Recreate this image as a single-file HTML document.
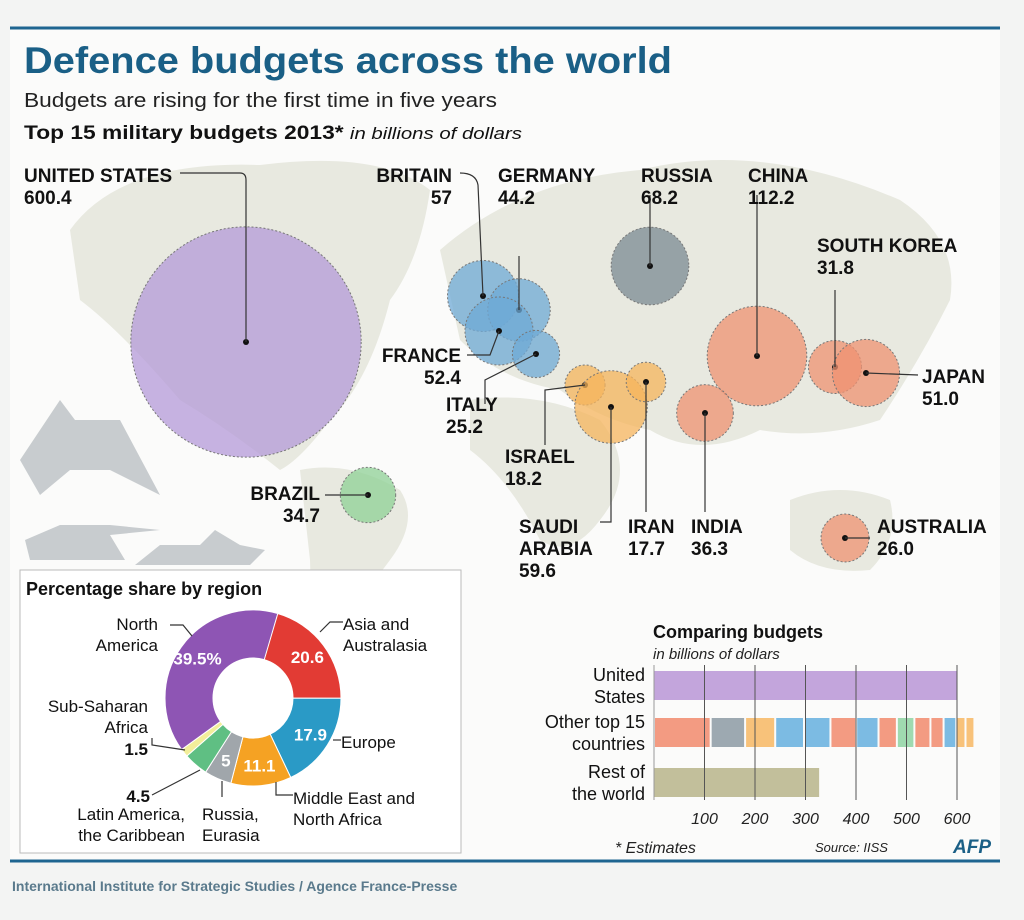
<!DOCTYPE html>
<html><head><meta charset="utf-8"><style>
html,body{margin:0;padding:0;background:#f3f4f3;}
svg{display:block;font-family:"Liberation Sans",Arial,sans-serif;}
.lbl{font-family:"Liberation Sans",sans-serif;font-weight:bold;font-size:19px;fill:#111;}
.ldr{stroke:#333;stroke-width:1.2;fill:none;}
.dl{font-size:17px;fill:#111;}
</style></head><body>
<svg id="root" width="1024" height="920" viewBox="0 0 1024 920">
<rect x="10" y="28" width="990" height="832" fill="#fbfbfa"/>
<line x1="10" y1="28" x2="1000" y2="28" stroke="#1e6590" stroke-width="3"/>
<g fill="#e8e9e0">
<path d="M70 230 Q120 160 260 165 Q380 150 430 190 Q420 260 390 300 Q370 380 330 420 Q300 460 280 470 Q230 430 180 400 Q120 330 80 300 Z"/>
<path d="M300 470 Q350 460 400 490 Q420 520 390 560 Q360 600 330 640 Q310 600 310 560 Z"/>
<path d="M440 250 Q520 180 640 170 Q760 140 900 200 Q960 240 950 300 Q920 360 880 420 Q820 440 760 430 Q700 460 650 430 Q600 420 560 390 Q500 380 460 340 Z"/>
<path d="M470 400 Q540 390 600 420 Q640 470 600 520 Q570 560 540 540 Q510 480 470 450 Z"/>
<path d="M790 500 Q840 480 890 500 Q900 540 870 570 Q820 575 790 550 Z"/>
</g>
<g fill="#c8cccf">
<path d="M20 460 L60 400 L75 420 L120 420 L160 495 L110 470 L70 470 L40 495 Z"/>
<path d="M25 540 L60 525 L110 525 L160 530 L110 535 L125 560 L30 560 Z"/>
<path d="M135 565 L160 545 L200 545 L215 530 L240 545 L265 550 L250 565 Z"/>
</g>
<text x="24" y="73" font-size="37" font-weight="bold" fill="#1a5f86" textLength="648" lengthAdjust="spacingAndGlyphs">Defence budgets across the world</text>
<text x="24" y="107" font-size="20" fill="#222" textLength="473" lengthAdjust="spacingAndGlyphs">Budgets are rising for the first time in five years</text>
<text x="24" y="139" font-size="19" fill="#111" textLength="498" lengthAdjust="spacingAndGlyphs"><tspan font-weight="bold">Top 15 military budgets 2013*</tspan> <tspan font-style="italic" font-size="17">in billions of dollars</tspan></text>
<g id="bubbles"></g>
<g id="labels"></g>

<rect x="20" y="570" width="441" height="283" fill="#fff" stroke="#bbb"/>
<text x="26" y="595" font-size="18" font-weight="bold" fill="#111">Percentage share by region</text>
<g id="donut"></g>

<text x="653" y="638" font-size="18" font-weight="bold" fill="#111">Comparing budgets</text>
<text x="653" y="659" font-size="15" font-style="italic" fill="#222">in billions of dollars</text>
<g id="bars"></g>
<text x="615" y="853" font-size="16" font-style="italic" fill="#222">* Estimates</text>
<text x="815" y="852" font-size="13" font-style="italic" fill="#222">Source: IISS</text>
<text x="953" y="853" font-size="19" font-weight="bold" font-style="italic" fill="#1a5f86">AFP</text>
<line x1="10" y1="861" x2="1000" y2="861" stroke="#1e6590" stroke-width="3"/>
<text x="12" y="891" font-size="14" font-weight="bold" fill="#5a7a8c">International Institute for Strategic Studies / Agence France-Presse</text>
</svg>
<script>
const NS="http://www.w3.org/2000/svg";
function mk(t,a,p){const e=document.createElementNS(NS,t);for(const k in a)e.setAttribute(k,a[k]);p.appendChild(e);return e;}

const countries=["United States","Britain","Germany","France","Italy","Russia","China","South Korea","Japan","India","Israel","Saudi Arabia","Iran","Brazil","Australia"];
const budgets=[600.4,57,44.2,52.4,25.2,68.2,112.2,31.8,51.0,36.3,18.2,59.6,17.7,34.7,26.0];
const budgetLabels=["600.4","57","44.2","52.4","25.2","68.2","112.2","31.8","51.0","36.3","18.2","59.6","17.7","34.7","26.0"];
const regionOf=["na","eu","eu","eu","eu","ru","as","as","as","as","me","me","me","la","as"];
const locX=[246,483,519,499,536,650,757,835,866,705,585,611,646,368,845];
const locY=[342,296,310,331,354,266,356,367,373,413,385,407,382,495,538];
const fillC={na:"#b49ad8",eu:"#6faad6",ru:"#7b8a93",as:"#ef9272",me:"#f6b45c",la:"#8fd095"};
const rScale=v=>Math.sqrt(v)*4.7;
const bub=document.getElementById('bubbles');
countries.forEach((c,i)=>{
  const g=mk('circle',{cx:locX[i],cy:locY[i],r:rScale(budgets[i]),fill:fillC[regionOf[i]],'fill-opacity':0.75,stroke:'#777','stroke-dasharray':'2 2','stroke-width':1},bub);
  
  
  const d=mk('circle',{cx:locX[i],cy:locY[i],r:3,fill:'#111'},bub);
  
  
});
const labelText=[["UNITED STATES"],["BRITAIN"],["GERMANY"],["FRANCE"],["ITALY"],["RUSSIA"],["CHINA"],["SOUTH KOREA"],["JAPAN"],["INDIA"],["ISRAEL"],["SAUDI","ARABIA"],["IRAN"],["BRAZIL"],["AUSTRALIA"]];
const labelPos=[[24,182,"start"],[452,182,"end"],[498,182,"start"],[461,362,"end"],[446,411,"start"],[641,182,"start"],[748,182,"start"],[817,252,"start"],[922,383,"start"],[691,533,"start"],[505,463,"start"],[519,533,"start"],[628,533,"start"],[320,500,"end"],[877,533,"start"]];
const leaders=["M180 173 L240 173 Q246 173 246 180 L246 342","M460 173 Q476 173 478 185 L483 296","M519 256 L519 310","M467 355 L490 355 L499 331","M485 404 L485 380 L536 354","M650 195 L650 266","M757 195 L757 356","M835 290 L835 367","M918 375 L866 373","M705 512 L705 413","M545 445 L545 390 L585 385","M600 522 L611 522 L611 407","M646 512 L646 382","M325 495 L368 495","M870 538 L845 538"];
const lab=document.getElementById('labels');
leaders.forEach((p,i)=>{const e=mk('path',{d:p,class:'ldr'},lab);
  
  });
countries.forEach((c,i)=>{
  const [x,y,an]=labelPos[i];
  const t=mk('text',{x:x,y:y,class:'lbl','text-anchor':an},lab);
  
  
  const lines=labelText[i].concat([budgetLabels[i]]);
  lines.forEach((s,j)=>{const ts=mk('tspan',{x:x,dy:j?22:0},t);ts.textContent=s;});
});

const regions=["Asia and Australasia","Europe","Middle East and North Africa","Russia, Eurasia","Latin America, the Caribbean","Sub-Saharan Africa","North America"];
const shares=[20.6,17.9,11.1,5,4.5,1.5,39.5];
const shareLabels=["20.6","17.9","11.1","5","","","39.5%"];
const donutColors=["#e23b34","#2a9ac6","#f5a223","#a0a6ab","#5fbf83","#f2ee9a","#8e55b4"];
const cx=253,cy=698,R=88,r0=40;
const dn=document.getElementById('donut');
let a=16*Math.PI/180;
const pt=(rad,ang)=>[cx+rad*Math.sin(ang),cy-rad*Math.cos(ang)];
shares.forEach((s,i)=>{
  const b=a+s/100*2*Math.PI, lg=(b-a)>Math.PI?1:0;
  const [x1,y1]=pt(R,a),[x2,y2]=pt(R,b),[x3,y3]=pt(r0,b),[x4,y4]=pt(r0,a);
  const p=mk('path',{d:`M${x1} ${y1} A${R} ${R} 0 ${lg} 1 ${x2} ${y2} L${x3} ${y3} A${r0} ${r0} 0 ${lg} 0 ${x4} ${y4}Z`,fill:donutColors[i],stroke:'#fff','stroke-width':1},dn);
  
  
  if(shareLabels[i]){const m=(a+b)/2;const rr=(R+r0)/2+4;
    const [tx,ty]=pt(rr,m);
    const t=mk('text',{x:tx,y:ty+6,'text-anchor':'middle','font-size':17,'font-weight':'bold',fill:'#fff'},dn);
    t.textContent=shareLabels[i];
    
    }
  a=b;
});
const dTexts=[[343,630,"start",["Asia and","Australasia"]],[341,748,"start",["Europe"]],[293,804,"start",["Middle East and","North Africa"]],[202,820,"start",["Russia,","Eurasia"]],[185,820,"end",["Latin America,","the Caribbean"]],[148,712,"end",["Sub-Saharan","Africa"]],[158,630,"end",["North","America"]]];
dTexts.forEach(d=>{const t=mk('text',{x:d[0],y:d[1],'text-anchor':d[2],class:'dl'},dn);
  
  
  d[3].forEach((s,j)=>{const ts=mk('tspan',{x:d[0],dy:j?21:0},t);ts.textContent=s;});});
[[148,755,"1.5"],[150,802,"4.5"]].forEach(v=>{const t=mk('text',{x:v[0],y:v[1],'text-anchor':'end','font-size':17,'font-weight':'bold',fill:'#111'},dn);t.textContent=v[2];
  
  });
["M170 625 L183 625 L192 636","M320 632 L330 622 L343 622","M341 740 L333 740","M293 795 L276 795 L276 782","M222 797 L222 781","M152 795 L200 770","M152 738 L152 745 L185 750"].forEach(p=>{const e=mk('path',{d:p,class:'ldr','stroke-width':1},dn);
  
  });

const barCats=["United States","Other top 15 countries","Rest of the world"];
const usVal=[600.4];
const otherVals=[112.2,68.2,59.6,57,52.4,51.0,44.2,36.3,34.7,31.8,26.0,25.2,18.2,17.7];
const otherColors=["#f39b82","#9da9b1","#f8c27a","#7cbbe3","#7cbbe3","#f39b82","#7cbbe3","#f39b82","#9fdab0","#f39b82","#f39b82","#7cbbe3","#f8c27a","#f8c27a"];
const restVal=[327];
const ticks=[100,200,300,400,500,600];
const x0=654,k=0.505;const X=v=>x0+v*k;
const bg=document.getElementById('bars');
const rowY=[671,718,768],bh=29;
let e=mk('rect',{x:X(0),y:rowY[0],width:X(usVal[0])-X(0),height:bh,fill:'#c3a5dc'},bg);


let acc=0;
otherVals.forEach((v,i)=>{const r=mk('rect',{x:X(acc)+1,y:rowY[1],width:X(v)-X(0)-2,height:bh,fill:otherColors[i]},bg);
  
  acc+=v;});
e=mk('rect',{x:X(0),y:rowY[2],width:X(restVal[0])-X(0),height:bh,fill:'#c2bf9b'},bg);


e=mk('line',{x1:X(0),y1:665,x2:X(0),y2:800,stroke:'#999'},bg);


ticks.forEach(t=>{const l=mk('line',{x1:X(t),y1:665,x2:X(t),y2:800,stroke:'#555','stroke-width':1},bg);
  
  
  const tx=mk('text',{x:X(t),y:824,'text-anchor':'middle','font-size':16,'font-style':'italic',fill:'#222'},bg);tx.textContent=t;
  
  });
const catLines=[["United","States"],["Other top 15","countries"],["Rest of","the world"]];
catLines.forEach((c,i)=>{const t=mk('text',{x:645,y:rowY[i]+10,'text-anchor':'end','font-size':18,fill:'#111'},bg);
  
  
  c.forEach((s,j)=>{const ts=mk('tspan',{x:645,dy:j?22:0},t);ts.textContent=s;});});
</script>
</body></html>
